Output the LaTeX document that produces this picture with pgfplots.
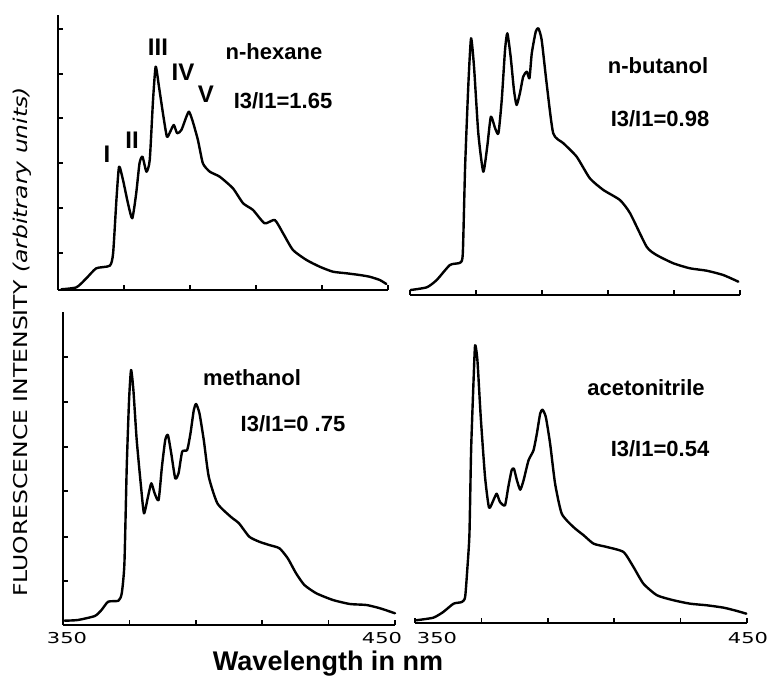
\documentclass[border=0pt]{standalone}
\usepackage{fontspec}
\setmainfont{Liberation Sans}
\newfontfamily\tickfont{DejaVu Sans}
\usepackage{graphicx}
\usepackage{pgfplots}
\pgfplotsset{compat=1.18}
\usepackage{pgfplotstable}

\pgfplotstableread{
x y
351.0 0.7
355.6 2.7
358.6 11.7
361.6 21.7
365.7 24.3
366.7 36.7
367.7 90
368.5 123.3
369.7 110
371.2 86.7
372.5 71.7
373.7 96.7
374.7 126.7
375.6 133.3
376.8 118.3
377.8 130
378.8 190
379.6 223.3
380.6 203.3
381.8 176.7
383.0 153.3
384.0 158.3
385.1 165
386.1 156.7
387.4 160
388.9 173.3
389.7 178.3
390.7 170
392.4 150
393.9 126.7
396.0 118.3
399.0 113.3
403.0 101.7
406.1 86.7
409.1 80
412.6 66.7
415.7 70
418.2 56.7
421.2 40
425.3 30
429.3 23.3
433.3 18.3
437.4 16.7
441.4 15
444.4 13.3
447.5 10
449.5 6
}\hexane

\pgfplotstableread{
x y
350.2 5
355.1 7.7
358.1 15
362.1 30
365.2 32.3
366.0 41.7
366.7 128.3
367.7 211.7
368.5 256.7
369.4 228.3
370.7 161.7
372.2 123.3
373.4 148.3
374.5 178.3
375.8 166.7
376.8 161.7
377.8 195
378.8 245
379.5 261.7
380.5 238.3
381.5 205
382.3 190
383.3 201.7
384.3 218.3
385.4 223.3
386.2 216.7
386.9 241.7
388.1 263.3
388.9 266.7
389.9 255
391.4 211.7
393.4 161.7
396.5 151.7
400.5 138.3
404.5 116.7
408.6 105
413.6 95
416.7 81.7
421.7 48.3
424.7 40
429.8 31.7
434.8 26.7
439.9 24.3
444.9 20
449.5 13.3
}\butanol

\pgfplotstableread{
x y
350.5 4.3
354.5 5
359.6 9
361.6 15
363.6 23.3
366.7 24.3
367.7 31.7
368.5 61.7
369.2 158.3
369.9 225
370.5 255
371.2 235
372.2 185
373.5 138.3
374.4 111.7
375.6 128.3
376.6 141.7
377.6 131.7
378.8 125
379.8 158.3
380.8 185
381.6 190
382.6 171.7
383.8 146.7
384.8 151.7
385.9 173.3
387.4 175
388.4 191.7
389.4 215
390.1 221
391.1 211.7
392.4 185
393.9 148.3
396.5 121.7
400.5 108.3
403.0 101.7
406.1 88.3
409.1 83.3
412.1 80
415.2 76.7
417.7 66.7
420.2 51.7
422.7 40
426.3 31.7
431.3 25
436.4 21
441.4 20
445.5 16.7
450.0 11.7
}\methanol

\pgfplotstableread{
x y
350.3 2.7
355.5 5.3
358.5 11
361.6 19.3
364.1 21
365.1 26
365.8 56
366.4 89.3
366.9 172.7
367.6 239.3
368.1 277.7
368.8 262.7
369.8 206
371.1 146
372.3 115.3
373.6 122.7
374.6 129.3
375.6 121
377.1 117.7
378.1 136
379.1 152.7
379.8 154.3
380.7 142.7
381.7 133.3
382.7 142.7
384.2 162.7
385.7 172.7
386.7 189.3
387.7 209.3
388.4 213.3
389.4 206
390.7 179.3
392.2 139.3
394.2 109.3
397.7 96
400.8 87.7
403.8 79.3
407.8 76
412.8 71
415.8 56
418.8 39.3
422.9 27.7
427.9 22.7
432.9 19.3
437.9 17.7
443.0 15.3
447.0 12
449.8 9.3
}\acetonitrile

\pgfplotsset{
  spec/.style={
    scale only axis,
    anchor=south west,
    xmin=350, xmax=450, ymin=0,
    axis x line*=bottom,
    axis line style={line width=2pt, black},
    xtick={350,370,...,450},
    xticklabels={},
    yticklabels={},
    tick align=inside,
    major tick length=5pt,
    tick style={line width=1.5pt, black},
    clip=false,
  },
  curve/.style={black, line width=2.4pt, line join=round, line cap=round, no markers, smooth, tension=0.35},
}

\begin{document}
\begin{tikzpicture}
\path[use as bounding box] (0pt,0pt) rectangle (769pt,680pt);

% top left: n-hexane
\begin{axis}[spec, at={(58pt,390pt)}, width=330pt, height=275pt, ymax=275,
  axis y line*=left, ytick={37,82,127,172,216,261}]
\addplot[curve] table {\hexane};
\end{axis}

% top right: n-butanol
\begin{axis}[spec, at={(410pt,385pt)}, width=330pt, height=275pt, ymax=275,
  axis y line=none]
\addplot[curve] table {\butanol};
\end{axis}

% bottom left: methanol
\begin{axis}[spec, at={(63pt,55pt)}, width=332pt, height=313pt, ymax=313,
  axis y line*=left, ytick={44,88,134,178,223,268}]
\addplot[curve] table {\methanol};
\end{axis}

% bottom right: acetonitrile
\begin{axis}[spec, at={(415pt,57pt)}, width=332pt, height=313pt, ymax=313,
  axis y line=none]
\addplot[curve] table {\acetonitrile};
\end{axis}

% tick labels
\begin{scope}[every node/.style={font=\tickfont\fontsize{15}{15}\selectfont, inner sep=0pt}]
\node at (67pt,42pt) {\scalebox{1.4}[1]{350}};
\node at (382pt,42pt) {\scalebox{1.4}[1]{450}};
\node at (437pt,42pt) {\scalebox{1.4}[1]{350}};
\node at (748pt,42pt) {\scalebox{1.4}[1]{450}};
\end{scope}

% annotations
\begin{scope}[every node/.style={font=\fontsize{22}{24}\selectfont\bfseries, inner sep=0pt}]
\node at (274pt,628pt) {n-hexane};
\node at (283pt,579pt) {I3/I1=1.65};
\node at (658pt,614pt) {n-butanol};
\node at (660pt,561pt) {I3/I1=0.98};
\node at (252pt,302pt) {methanol};
\node at (293pt,256pt) {I3/I1=0 .75};
\node at (646pt,292pt) {acetonitrile};
\node at (660pt,231pt) {I3/I1=0.54};
\end{scope}
\begin{scope}[every node/.style={font=\fontsize{24}{26}\selectfont\bfseries, inner sep=0pt}]
\node at (107pt,526pt) {I};
\node at (132pt,540pt) {II};
\node at (158pt,633pt) {III};
\node at (183pt,608pt) {IV};
\node at (206pt,586pt) {V};
\end{scope}

% axis titles
\node[inner sep=0pt, font=\fontsize{27}{29}\selectfont\bfseries] at (328pt,16pt) {Wavelength in nm};
\node[inner sep=0pt, rotate=90, font=\tickfont\fontsize{19}{21}\selectfont] at (22pt,338pt)
  {\resizebox{510pt}{\height}{FLUORESCENCE INTENSITY {\itshape (arbitrary units)}}};
\end{tikzpicture}
\end{document}
